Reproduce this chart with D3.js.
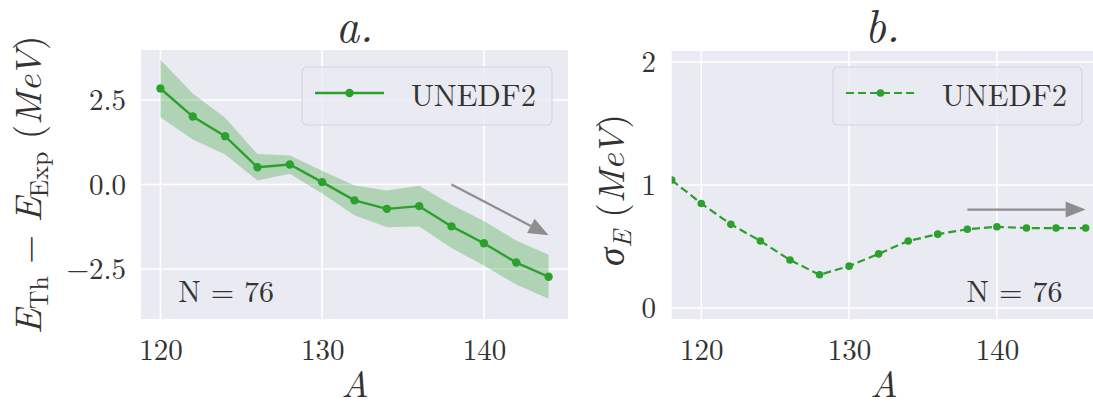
<!DOCTYPE html>
<html>
<head>
<meta charset="utf-8">
<script src="https://cdn.jsdelivr.net/npm/d3@7"></script>
<style>
  html, body { margin: 0; padding: 0; background: #ffffff; }
  svg { display: block; }
</style>
</head>
<body>
<svg id="chart" width="1093" height="405"></svg>
<script>
// Mass number A for the left panel (energy residuals)
const massNumbers = [120, 122, 124, 126, 128, 130, 132, 134, 136, 138, 140, 142, 144];
// Mean E_Th - E_Exp (MeV) for each A
const meanResidual = [2.84, 2.01, 1.43, 0.51, 0.59, 0.07, -0.47, -0.72, -0.64, -1.24, -1.74, -2.31, -2.73];
// Spread sigma_E (MeV) for each A of the left panel (band half-width)
const residualSpread = [0.85, 0.68, 0.545, 0.39, 0.27, 0.34, 0.44, 0.545, 0.60, 0.64, 0.66, 0.65, 0.65];

// Mass number A for the right panel (standard deviation)
const massNumbersSigma = [118, 120, 122, 124, 126, 128, 130, 132, 134, 136, 138, 140, 142, 144, 146];
const sigmaE = [1.04, 0.85, 0.68, 0.545, 0.39, 0.27, 0.34, 0.44, 0.545, 0.60, 0.64, 0.66, 0.65, 0.65, 0.65];

const xTicks = [120, 130, 140];
const yTicksLeft = [2.5, 0.0, -2.5];
const yTickLabelsLeft = ["2.5", "0.0", "\u22122.5"];
const yTicksRight = [0, 1, 2];
const yTickLabelsRight = ["0", "1", "2"];

const seriesName = "UNEDF2";
const sampleLabel = "N = 76";
const panelTitles = ["a.", "b."];

// Trend arrows, data coordinates [from, to]
const arrowLeft = [[138, 0.0], [144, -1.5]];
const arrowRight = [[138, 0.8], [146, 0.8]];

const FONT = "'Latin Modern Roman', 'CMU Serif', 'Liberation Serif', serif";
const INK = "#333333";
const GREEN = "#2ca02c";
const BG = "#eaeaf2";
const ARROW = "#8e8e8e";

const svg = d3.select("#chart");
const defs = svg.append("defs");

function txt(sel, size, italic) {
  return sel.style("font-family", FONT).style("font-size", size + "px")
    .style("font-style", italic ? "italic" : "normal").attr("fill", INK);
}

function panel(cfg) {
  const g = svg.append("g");
  const { x, y, left, right, top, bottom, id } = cfg;

  defs.append("clipPath").attr("id", id)
    .append("rect").attr("x", left).attr("y", top)
    .attr("width", right - left).attr("height", bottom - top);

  g.append("rect").attr("x", left).attr("y", top)
    .attr("width", right - left).attr("height", bottom - top)
    .attr("fill", BG);

  // grid
  g.append("g").selectAll("line").data(cfg.xTicks).join("line")
    .attr("x1", d => x(d)).attr("x2", d => x(d))
    .attr("y1", top).attr("y2", bottom)
    .attr("stroke", "#ffffff").attr("stroke-width", 1.6);
  g.append("g").selectAll("line").data(cfg.yTicks).join("line")
    .attr("x1", left).attr("x2", right)
    .attr("y1", d => y(d)).attr("y2", d => y(d))
    .attr("stroke", "#ffffff").attr("stroke-width", 1.6);

  // axes (tick labels only)
  const xAxis = d3.axisBottom(x).tickValues(cfg.xTicks).tickSize(0).tickPadding(0);
  const xg = g.append("g").attr("transform", `translate(0,${bottom})`).call(xAxis);
  xg.select(".domain").remove();
  txt(xg.selectAll("text").attr("dy", null).attr("y", 41), 29, false);

  const yAxis = d3.axisLeft(y).tickValues(cfg.yTicks).tickSize(0)
    .tickFormat((d, i) => cfg.yTickLabels[i]);
  const yg = g.append("g").attr("transform", `translate(${left},0)`).call(yAxis);
  yg.select(".domain").remove();
  txt(yg.selectAll("text").attr("x", cfg.yTickX - left).attr("dy", "0.34em"), 29, false);

  // title
  txt(g.append("text").attr("x", (left + Math.min(right, 1093)) / 2).attr("y", 42)
    .attr("text-anchor", "middle"), 46, true).text(cfg.title);

  // x label
  txt(g.append("text").attr("x", cfg.xLabelX).attr("y", 397)
    .attr("text-anchor", "middle"), 37, true).text("A");

  return g;
}

// ---------- Left panel ----------
const L = { left: 141, right: 568, top: 50, bottom: 319 };
const xL = d3.scaleLinear().domain([118.8, 145.2]).range([L.left, L.right]);
const yL = d3.scaleLinear().domain([-3.98, 3.98]).range([L.bottom, L.top]);

const gL = panel({ ...L, x: xL, y: yL, id: "clipL", xTicks, yTicks: yTicksLeft,
  yTickLabels: yTickLabelsLeft, yTickX: 126, title: panelTitles[0], xLabelX: 355 });

const leftData = massNumbers.map((a, i) => ({ a, m: meanResidual[i], s: residualSpread[i] }));

const plotL = gL.append("g").attr("clip-path", "url(#clipL)");
plotL.append("path").datum(leftData)
  .attr("d", d3.area().x(d => xL(d.a)).y0(d => yL(d.m - d.s)).y1(d => yL(d.m + d.s)))
  .attr("fill", GREEN).attr("fill-opacity", 0.3);
plotL.append("path").datum(leftData)
  .attr("d", d3.line().x(d => xL(d.a)).y(d => yL(d.m)))
  .attr("fill", "none").attr("stroke", GREEN).attr("stroke-width", 2.4);
plotL.append("g").selectAll("circle").data(leftData).join("circle")
  .attr("cx", d => xL(d.a)).attr("cy", d => yL(d.m)).attr("r", 4.2)
  .attr("fill", GREEN);

// ---------- Right panel ----------
const R = { left: 671.7, right: 1093, top: 51, bottom: 319 };
const xR = d3.scaleLinear().domain([118, 146.5]).range([R.left, R.right]);
const yR = d3.scaleLinear().domain([-0.09, 2.09]).range([R.bottom, R.top]);

const gR = panel({ ...R, x: xR, y: yR, id: "clipR", xTicks, yTicks: yTicksRight,
  yTickLabels: yTickLabelsRight, yTickX: 656, title: panelTitles[1], xLabelX: 884 });

const rightData = massNumbersSigma.map((a, i) => ({ a, s: sigmaE[i] }));
const plotR = gR.append("g").attr("clip-path", "url(#clipR)");
plotR.append("path").datum(rightData)
  .attr("d", d3.line().x(d => xR(d.a)).y(d => yR(d.s)))
  .attr("fill", "none").attr("stroke", GREEN).attr("stroke-width", 2.2)
  .attr("stroke-dasharray", "8,4");
plotR.append("g").selectAll("circle").data(rightData).join("circle")
  .attr("cx", d => xR(d.a)).attr("cy", d => yR(d.s)).attr("r", 3.8)
  .attr("fill", GREEN);

// ---------- Arrows ----------
function arrow(g, x, y, pts) {
  const [p0, p1] = pts;
  const x0 = x(p0[0]), y0 = y(p0[1]), x1 = x(p1[0]), y1 = y(p1[1]);
  const ang = Math.atan2(y1 - y0, x1 - x0);
  const headLen = 20, headHalf = 8;
  const bx = x1 - headLen * Math.cos(ang), by = y1 - headLen * Math.sin(ang);
  g.append("line").attr("x1", x0).attr("y1", y0).attr("x2", bx).attr("y2", by)
    .attr("stroke", ARROW).attr("stroke-width", 2.2);
  const nx = -Math.sin(ang), ny = Math.cos(ang);
  g.append("path")
    .attr("d", `M${x1},${y1}L${bx + nx * headHalf},${by + ny * headHalf}L${bx - nx * headHalf},${by - ny * headHalf}Z`)
    .attr("fill", ARROW);
}
arrow(gL, xL, yL, arrowLeft);
arrow(gR, xR, yR, arrowRight);

// ---------- N labels ----------
txt(gL.append("text").attr("x", L.left + 0.087 * (L.right - L.left)).attr("y", 302), 30, false)
  .text(sampleLabel);
txt(gR.append("text").attr("x", R.left + 0.70 * (R.right - R.left)).attr("y", 302), 30, false)
  .text(sampleLabel);

// ---------- Legends ----------
function legend(g, box, dashed) {
  g.append("rect").attr("x", box.x).attr("y", box.y).attr("width", box.w).attr("height", box.h)
    .attr("rx", 5).attr("fill", BG).attr("fill-opacity", 0.8)
    .attr("stroke", "#d4d4dc").attr("stroke-width", 1.2);
  const ly = box.y + 26;
  g.append("line").attr("x1", box.x + 13).attr("x2", box.x + 82).attr("y1", ly).attr("y2", ly)
    .attr("stroke", GREEN).attr("stroke-width", dashed ? 2.2 : 2.4)
    .attr("stroke-dasharray", dashed ? "8,4" : null);
  g.append("circle").attr("cx", box.x + 47.5).attr("cy", ly).attr("r", dashed ? 3.8 : 4.2).attr("fill", GREEN);
  txt(g.append("text").attr("x", box.x + 109).attr("y", box.y + 39), 30.5, false).text(seriesName);
}
legend(gL, { x: 302, y: 67, w: 250, h: 58 }, false);
legend(gR, { x: 833, y: 67, w: 249, h: 58 }, true);

// ---------- Y labels ----------
const ylL = txt(svg.append("text")
  .attr("transform", "translate(41,185) rotate(-90)")
  .attr("text-anchor", "middle"), 37, false);
ylL.append("tspan").style("font-style", "italic").text("E");
ylL.append("tspan").attr("dy", 7).style("font-size", "26px").text("Th");
ylL.append("tspan").attr("dy", -7).text(" \u2212 ");
ylL.append("tspan").style("font-style", "italic").text("E");
ylL.append("tspan").attr("dy", 7).style("font-size", "26px").text("Exp");
ylL.append("tspan").attr("dy", -7).text(" (");
ylL.append("tspan").style("font-style", "italic").text("MeV");
ylL.append("tspan").text(")");

const ylR = txt(svg.append("text")
  .attr("transform", "translate(624,190) rotate(-90)")
  .attr("text-anchor", "middle"), 37, false);
ylR.append("tspan").style("font-style", "italic").text("\u03c3");
ylR.append("tspan").attr("dy", 7).style("font-size", "26px").style("font-style", "italic").text("E");
ylR.append("tspan").attr("dy", -7).text(" (");
ylR.append("tspan").style("font-style", "italic").text("MeV");
ylR.append("tspan").text(")");
</script>
</body>
</html>
